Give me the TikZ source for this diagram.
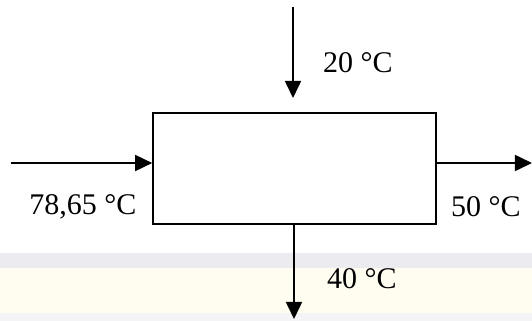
\documentclass[tikz,border=0pt]{standalone}
\usepackage{fontspec}
\setmainfont{Liberation Serif}
\usetikzlibrary{arrows.meta}
\definecolor{bandgray}{RGB}{236,236,240}
\definecolor{bandyellow}{RGB}{255,253,240}
\tikzset{flow/.style={-{Triangle[length=8.5pt,width=8pt]},line width=.8pt},
 temp/.style={font=\fontsize{15}{17}\selectfont,inner sep=0pt}}
\begin{document}
\begin{tikzpicture}[x=.5pt,y=-.5pt]
 \useasboundingbox (0,0) rectangle (532,321);
 \fill[bandgray] (0,253) rectangle (532,268);
 \fill[bandyellow] (0,268) rectangle (532,313);
 \fill[bandgray!60] (0,313) rectangle (532,321);
 \node[draw,line width=.8pt,minimum width=141.5pt,minimum height=55.5pt,inner sep=0pt] (unit) at (294.5,168.5) {};
 \coordinate (topin) at (293,7);
 \coordinate (topend) at (293,98);
 \coordinate (leftin) at (11,163);
 \coordinate (rightout) at (532,163);
 \coordinate (botout) at (294,319);
 \draw[flow] (topin) -- (topend);
 \draw[flow] (leftin) -- (leftin -| unit.west);
 \draw[flow] (rightout -| unit.east) -- (rightout);
 \draw[flow] (botout |- unit.south) -- (botout);
 \node[temp] (tcold) at (358,63) {20 °C};
 \node[temp] (tfeed) at (83,207) {78,65 °C};
 \node[temp] (tprod) at (486,207) {50 °C};
 \node[temp] (tout) at (362,279) {40 °C};
\end{tikzpicture}
\end{document}
